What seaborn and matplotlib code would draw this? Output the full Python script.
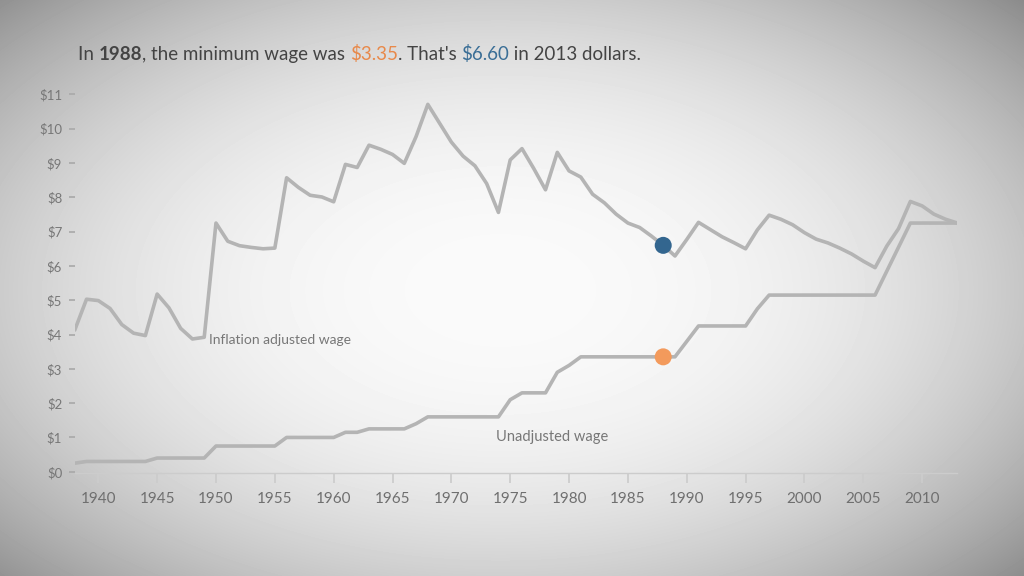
import numpy as np
import pandas as pd
import matplotlib
matplotlib.use("Agg")
import matplotlib.pyplot as plt
import seaborn as sns

years = list(range(1938, 2014))
unadjusted = [0.25, 0.30, 0.30, 0.30, 0.30, 0.30, 0.30, 0.40, 0.40, 0.40,
              0.40, 0.40, 0.75, 0.75, 0.75, 0.75, 0.75, 0.75, 1.00, 1.00,
              1.00, 1.00, 1.00, 1.15, 1.15, 1.25, 1.25, 1.25, 1.25, 1.40,
              1.60, 1.60, 1.60, 1.60, 1.60, 1.60, 1.60, 2.10, 2.30, 2.30,
              2.30, 2.90, 3.10, 3.35, 3.35, 3.35, 3.35, 3.35, 3.35, 3.35,
              3.35, 3.35, 3.80, 4.25, 4.25, 4.25, 4.25, 4.25, 4.75, 5.15,
              5.15, 5.15, 5.15, 5.15, 5.15, 5.15, 5.15, 5.15, 5.15, 5.85,
              6.55, 7.25, 7.25, 7.25, 7.25, 7.25]
adjusted = [4.13, 5.03, 4.99, 4.76, 4.29, 4.04, 3.97, 5.18, 4.78, 4.18,
            3.87, 3.92, 7.25, 6.72, 6.59, 6.54, 6.50, 6.52, 8.57, 8.29,
            8.06, 8.01, 7.87, 8.96, 8.87, 9.52, 9.40, 9.25, 8.99, 9.77,
            10.71, 10.16, 9.61, 9.20, 8.92, 8.40, 7.56, 9.09, 9.42, 8.84,
            8.22, 9.31, 8.77, 8.59, 8.09, 7.84, 7.51, 7.25, 7.12, 6.87,
            6.60, 6.29, 6.77, 7.27, 7.06, 6.85, 6.68, 6.50, 7.05, 7.48,
            7.36, 7.20, 6.97, 6.78, 6.67, 6.52, 6.35, 6.14, 5.95, 6.58,
            7.09, 7.88, 7.75, 7.51, 7.36, 7.25]
highlight_year = 1988
y_ticks = list(range(0, 12))
y_tick_labels = [f"${v}" for v in y_ticks]
x_ticks = list(range(1940, 2011, 5))

df = pd.DataFrame({"year": years, "Unadjusted wage": unadjusted,
                   "Inflation adjusted wage": adjusted})
long = df.melt(id_vars="year", var_name="series", value_name="wage")
hl = df[df["year"] == highlight_year]

sns.set_theme(style="white")
plt.rcParams["font.family"] = ["Lato", "DejaVu Sans"]

fig = plt.figure(figsize=(10.24, 5.76), dpi=100)

# vignette background
bg = fig.add_axes([0, 0, 1, 1], zorder=-10)
yy, xx = np.mgrid[0:576, 0:1024]
dx = (xx - 500) / 560.0
dy = (yy - 290) / 330.0
d = np.sqrt(dx**2 + dy**2) / np.sqrt(2)
img = np.clip(0.98 - 0.55 * np.clip(d, 0, None) ** 2.4, 0, 1)
bg.imshow(img, cmap="gray", vmin=0, vmax=1, aspect="auto", extent=[0, 1, 0, 1])
bg.axis("off")

ax = fig.add_axes([0.073, 0.178, 0.862, 0.67])
ax.set_facecolor("none")

line_color = "#b4b4b4"
sns.lineplot(data=long, x="year", y="wage", hue="series",
             palette={"Unadjusted wage": line_color,
                      "Inflation adjusted wage": line_color},
             linewidth=2.6, legend=False, ax=ax)
sns.scatterplot(x=hl["year"], y=hl["Unadjusted wage"], color="#f39a5c",
                s=150, edgecolor="none", zorder=5, ax=ax)
sns.scatterplot(x=hl["year"], y=hl["Inflation adjusted wage"], color="#33668f",
                s=150, edgecolor="none", zorder=5, ax=ax)

ax.text(1949.4, 3.85, "Inflation adjusted wage", fontsize=10, color="#777777",
        va="center", ha="left")
ax.text(1973.8, 1.0, "Unadjusted wage", fontsize=10.5, color="#777777",
        va="center", ha="left")

ax.set_xlim(1938, 2013)
ax.set_ylim(-0.05, 11.2)
ax.set_yticks(y_ticks)
ax.set_yticklabels(y_tick_labels)
ax.set_xticks(x_ticks)
ax.set_xlabel("")
ax.set_ylabel("")
for s in ["top", "right", "left"]:
    ax.spines[s].set_visible(False)
ax.spines["bottom"].set_color("#cccccc")
ax.spines["bottom"].set_linewidth(1)
ax.tick_params(axis="y", length=4, color="#aaaaaa", labelsize=9.5,
               labelcolor="#777777", pad=5, left=True)
ax.tick_params(axis="x", length=7, color="#cccccc", labelsize=11,
               labelcolor="#6f6f6f", pad=6, bottom=True)

# title with coloured segments
segments = [("In ", "#444444", "normal"), ("1988", "#444444", "bold"),
            (", the minimum wage was ", "#444444", "normal"),
            ("$3.35", "#e8894a", "normal"), (". That's ", "#444444", "normal"),
            ("$6.60", "#3a6e96", "normal"), (" in 2013 dollars.", "#444444", "normal")]
renderer = fig.canvas.get_renderer()
x0 = 78 / 1024
for txt, col, w in segments:
    t = fig.text(x0, 1 - 60 / 576, txt, fontsize=13.5, color=col, weight=w,
                 ha="left", va="baseline")
    bb = t.get_window_extent(renderer=renderer)
    x0 = bb.x1 / fig.bbox.width

fig.savefig("out.png", dpi=100)
